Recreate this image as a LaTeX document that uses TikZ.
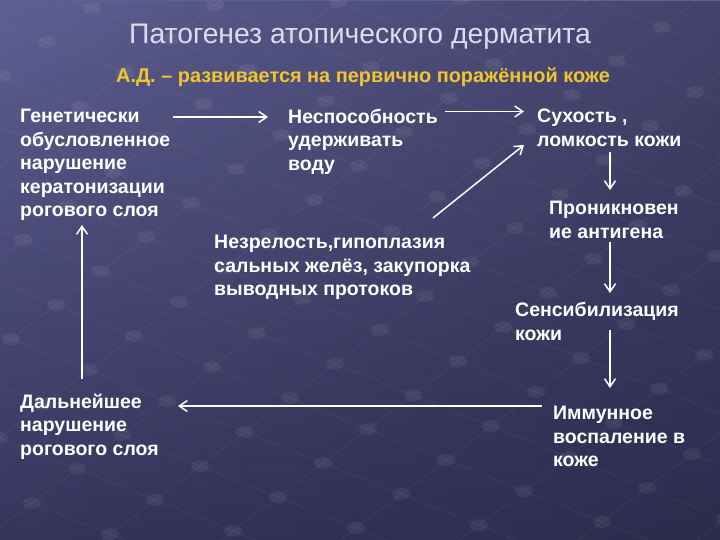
\documentclass[tikz,border=0pt]{standalone}
\usepackage{fontspec}
\setmainfont{Liberation Sans}
\usetikzlibrary{arrows.meta,calc,fadings}

\definecolor{bgtop}{HTML}{5F5F92}
\definecolor{bgbot}{HTML}{35355C}
\definecolor{bgdark}{HTML}{20203C}
\definecolor{titlecol}{HTML}{DCDCF0}
\definecolor{subcol}{HTML}{F2C42E}

\tikzset{
	txt/.style={anchor=north west, inner sep=0pt, align=left, text=white,
		font=\bfseries\fontsize{19.5}{23.5}\selectfont},
	arr/.style={draw=white, line width=1.5pt,
		-{Straight Barb[length=8pt,width=11pt,line width=1.5pt]}},
	gridline/.style={white, opacity=0.05, line width=0.8pt},
	griddot/.style={white, opacity=0.06},
}

\begin{document}
\begin{tikzpicture}[x=1pt,y=-1pt]
	% background
	\shade[top color=bgtop, bottom color=bgbot] (0,0) rectangle (720,540);
	\fill[bgdark, path fading=west, opacity=0.45] (0,0) rectangle (720,540);
	\begin{scope}
		\clip (0,0) rectangle (720,540);
		\foreach \j in {-22,...,15}
			\draw[gridline] ({413-1170-45*\j},{395-465+34*\j}) -- ({413+1170-45*\j},{395+465+34*\j});
		\foreach \i in {-15,...,15}
			\draw[gridline] ({413+78*\i+990},{395+31*\i-748}) -- ({413+78*\i-675},{395+31*\i+510});
		\foreach \i in {-10,...,8}
			\foreach \j in {-20,...,14}
				\fill[griddot] ({413+78*\i-45*\j},{395+31*\i+34*\j}) ellipse (9 and 6);
	\end{scope}
	
	% headings
	\node[inner sep=0pt, anchor=base, text=titlecol, font=\fontsize{28.3}{31}\selectfont] (title) at (360,43.5) {Патогенез атопического дерматита};
	\node[inner sep=0pt, anchor=base, text=subcol, font=\bfseries\fontsize{19.9}{22}\selectfont] (sub) at (363,83) {А.Д. – развивается на первично поражённой коже};
	
	% blocks
	\node[txt] (gen) at (20,109) {Генетически\\обусловленное\\нарушение\\кератонизации\\рогового слоя};
	\node[txt] (nesp) at (288,108.5) {Неспособность\\удерживать\\воду};
	\node[txt] (sukh) at (537,109) {Сухость ,\\ломкость кожи};
	\node[txt] (nezr) at (214,235) {Незрелость,гипоплазия\\сальных желёз, закупорка\\выводных протоков};
	\node[txt] (pron) at (549,201) {Проникновен\\ие антигена};
	\node[txt] (sens) at (515,302) {Сенсибилизация\\кожи};
	\node[txt] (imm) at (553,406) {Иммунное\\воспаление в\\коже};
	\node[txt] (dal) at (20,393.5) {Дальнейшее\\нарушение\\рогового слоя};
	
	% arrows
	\draw[arr] ($(gen.north west)+(153,8)$) -- ($(nesp.north west)+(-20,8.5)$);
	\draw[arr] ($(nesp.north west)+(157,3)$) -- ($(sukh.north west)+(-13,2.5)$);
	\draw[arr] ($(nezr.north west)+(219,-17)$) -- ($(sukh.north west)+(-13,36)$);
	\draw[arr] ($(sukh.north west)+(73,42.7)$) -- ($(pron.north west)+(61,-11)$);
	\draw[arr] ($(pron.north west)+(61,40.7)$) -- ($(sens.north west)+(95,-9)$);
	\draw[arr] ($(sens.north west)+(95,28)$) -- ($(imm.north west)+(57,-18)$);
	\draw[arr] ($(imm.north west)+(-11,0)$) -- ($(dal.north west)+(158,12.5)$);
	\draw[arr] ($(dal.north west)+(62,-15)$) -- ($(gen.north west)+(62,116)$);
\end{tikzpicture}
\end{document}
